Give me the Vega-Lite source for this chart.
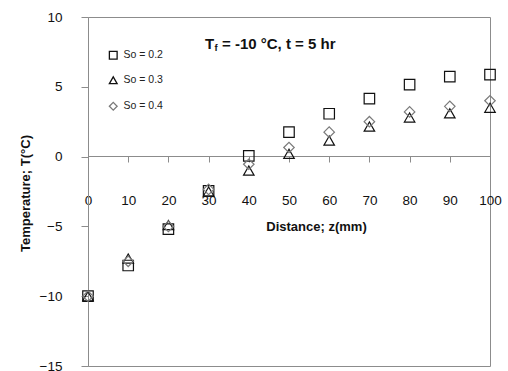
{
  "$schema": "https://vega.github.io/schema/vega-lite/v6.json",
  "width": 402,
  "height": 349,
  "autosize": {"type": "none"},
  "padding": {"left": 88, "top": 17, "right": 18, "bottom": 5},
  "background": "white",
  "config": {
    "font": "Liberation Sans",
    "view": {"stroke": "#8c8c8c", "strokeWidth": 1},
    "axis": {"grid": false, "domainColor": "#8c8c8c", "tickColor": "#8c8c8c", "labelColor": "#111", "labelFontSize": 13.5, "labelFont": "Liberation Sans"}
  },
  "datasets": {
    "profiles": [
      {"z": 0, "T": -10.0, "series": "So = 0.2"},
      {"z": 10, "T": -7.8, "series": "So = 0.2"},
      {"z": 20, "T": -5.2, "series": "So = 0.2"},
      {"z": 30, "T": -2.45, "series": "So = 0.2"},
      {"z": 40, "T": 0.05, "series": "So = 0.2"},
      {"z": 50, "T": 1.75, "series": "So = 0.2"},
      {"z": 60, "T": 3.07, "series": "So = 0.2"},
      {"z": 70, "T": 4.15, "series": "So = 0.2"},
      {"z": 80, "T": 5.16, "series": "So = 0.2"},
      {"z": 90, "T": 5.73, "series": "So = 0.2"},
      {"z": 100, "T": 5.87, "series": "So = 0.2"},
      {"z": 0, "T": -10.0, "series": "So = 0.3"},
      {"z": 10, "T": -7.3, "series": "So = 0.3"},
      {"z": 20, "T": -4.9, "series": "So = 0.3"},
      {"z": 30, "T": -2.5, "series": "So = 0.3"},
      {"z": 40, "T": -1.0, "series": "So = 0.3"},
      {"z": 50, "T": 0.2, "series": "So = 0.3"},
      {"z": 60, "T": 1.15, "series": "So = 0.3"},
      {"z": 70, "T": 2.15, "series": "So = 0.3"},
      {"z": 80, "T": 2.8, "series": "So = 0.3"},
      {"z": 90, "T": 3.1, "series": "So = 0.3"},
      {"z": 100, "T": 3.5, "series": "So = 0.3"},
      {"z": 0, "T": -10.0, "series": "So = 0.4"},
      {"z": 10, "T": -7.5, "series": "So = 0.4"},
      {"z": 20, "T": -5.0, "series": "So = 0.4"},
      {"z": 30, "T": -2.35, "series": "So = 0.4"},
      {"z": 40, "T": -0.55, "series": "So = 0.4"},
      {"z": 50, "T": 0.65, "series": "So = 0.4"},
      {"z": 60, "T": 1.75, "series": "So = 0.4"},
      {"z": 70, "T": 2.5, "series": "So = 0.4"},
      {"z": 80, "T": 3.2, "series": "So = 0.4"},
      {"z": 90, "T": 3.6, "series": "So = 0.4"},
      {"z": 100, "T": 4.0, "series": "So = 0.4"}
    ],
    "caption": [{"z": 29.1, "T": 8.1}]
  },
  "layer": [
    {
      "data": {"name": "profiles"},
      "mark": {"type": "point", "filled": false, "strokeWidth": 1.2, "size": 110, "opacity": 1},
      "encoding": {
        "x": {
          "field": "z", "type": "quantitative",
          "scale": {"domain": [0, 100], "nice": false, "zero": false},
          "axis": {
            "orient": "bottom", "offset": -210, "values": [0, 10, 20, 30, 40, 50, 60, 70, 80, 90, 100],
            "tickSize": 6, "labelPadding": 31, "labelFlush": false,
            "title": "Distance; z(mm)", "titleFontSize": 13, "titleFontWeight": "bold", "titleColor": "#111",
            "titleX": 228, "titleY": 70, "titleAnchor": "middle", "titleBaseline": "middle"
          }
        },
        "y": {
          "field": "T", "type": "quantitative",
          "scale": {"domain": [-15, 10], "nice": false, "zero": false},
          "axis": {
            "values": [-15, -10, -5, 0, 5, 10], "tickSize": 7, "labelPadding": 19,
            "title": "Temperature; T(°C)", "titleFontSize": 13, "titleFontWeight": "bold", "titleColor": "#111",
            "titleX": -63, "titleY": 176, "titleAnchor": "middle", "titleBaseline": "middle"
          }
        },
        "shape": {
          "field": "series", "type": "nominal",
          "scale": {"domain": ["So = 0.2", "So = 0.3", "So = 0.4"], "range": ["square", "triangle-up", "diamond"]},
          "legend": {
            "orient": "none", "legendX": 20, "legendY": 33, "title": null,
            "labelFontSize": 10.5, "labelColor": "#222", "symbolSize": 60, "symbolStrokeWidth": 1.3,
            "rowPadding": 12, "labelOffset": 5, "symbolFillColor": "white"
          }
        },
        "stroke": {
          "field": "series", "type": "nominal",
          "scale": {"domain": ["So = 0.2", "So = 0.3", "So = 0.4"], "range": ["#111111", "#111111", "#7a7a7a"]},
          "legend": null
        }
      }
    },
    {
      "data": {"name": "caption"},
      "mark": {"type": "text", "align": "left", "baseline": "middle", "fontSize": 15, "fontWeight": "bold", "color": "#111"},
      "encoding": {
        "x": {"field": "z", "type": "quantitative"},
        "y": {"field": "T", "type": "quantitative"},
        "text": {"value": "T"}
      }
    },
    {
      "data": {"name": "caption"},
      "mark": {"type": "text", "align": "left", "baseline": "middle", "fontSize": 9.5, "fontWeight": "bold", "color": "#111", "dx": 9.5, "dy": 4.5},
      "encoding": {
        "x": {"field": "z", "type": "quantitative"},
        "y": {"field": "T", "type": "quantitative"},
        "text": {"value": "f"}
      }
    },
    {
      "data": {"name": "caption"},
      "mark": {"type": "text", "align": "left", "baseline": "middle", "fontSize": 15, "fontWeight": "bold", "color": "#111", "dx": 17},
      "encoding": {
        "x": {"field": "z", "type": "quantitative"},
        "y": {"field": "T", "type": "quantitative"},
        "text": {"value": "= -10 °C, t = 5 hr"}
      }
    }
  ]
}
